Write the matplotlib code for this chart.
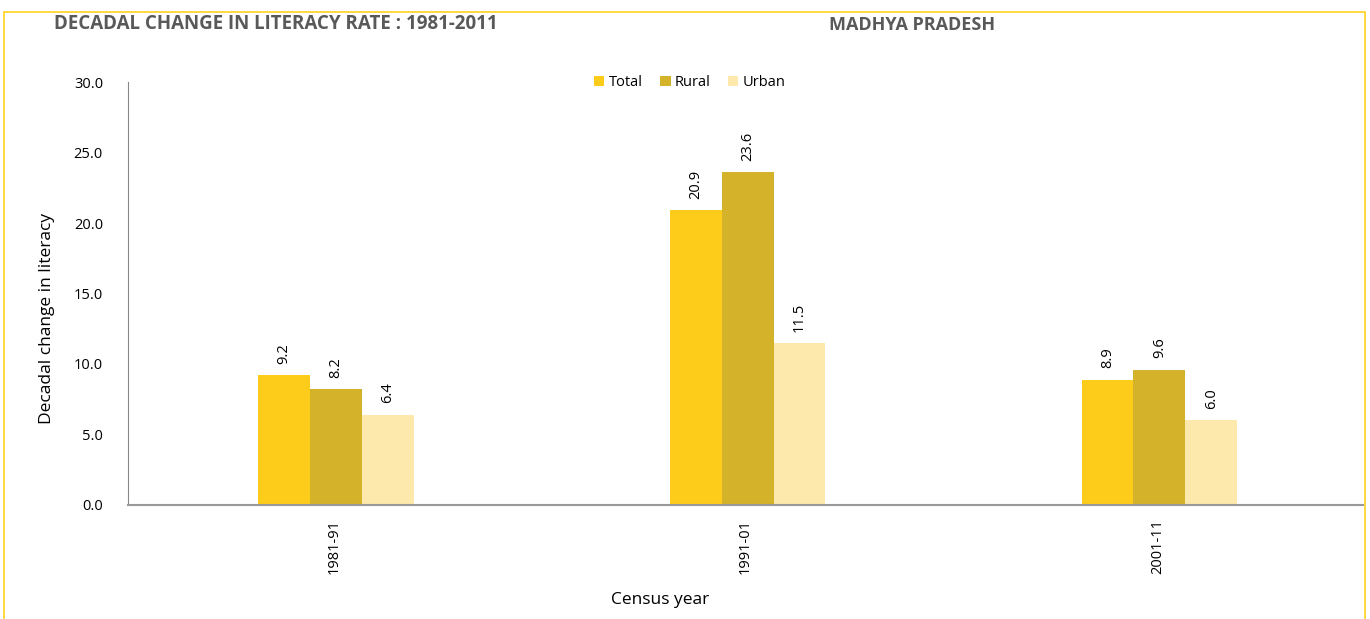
import matplotlib
matplotlib.use("Agg")
import matplotlib.pyplot as plt
from matplotlib.patches import Rectangle
import numpy as np

years = ["1981-91", "1991-01", "2001-11"]
total = [9.2, 20.9, 8.9]
rural = [8.2, 23.6, 9.6]
urban = [6.4, 11.5, 6.0]

COLORS = {"Total": "#FDCC1A", "Rural": "#D4B22A", "Urban": "#FEE9AC"}
plt.rcParams["font.family"] = ["Open Sans", "DejaVu Sans"]

fig = plt.figure(figsize=(13.7, 6.19), dpi=100)
ax = fig.add_axes([0.0934, 0.1842, 0.9016, 0.6833])

# yellow frame around the chart
fig.patches.append(Rectangle((4 / 1370, -0.05), 1361 / 1370, 1.05 - 12 / 619,
                             transform=fig.transFigure, fill=False,
                             edgecolor="#FFD21F", lw=1.2))

x = np.arange(len(years))
w = 0.126
for off, vals, name in [(-w, total, "Total"), (0, rural, "Rural"), (w, urban, "Urban")]:
    bars = ax.bar(x + off + 0.005, vals, w, color=COLORS[name], label=name)
    for b, v in zip(bars, vals):
        ax.text(b.get_x() + b.get_width() / 2, v + 0.8, f"{v:.1f}",
                rotation=90, ha="center", va="bottom", fontsize=10.5)

ax.set_xlim(-0.5, 2.5)
ax.set_ylim(0, 30)
ax.set_yticks(np.arange(0, 30.1, 5))
ax.set_yticklabels([f"{t:.1f}" for t in np.arange(0, 30.1, 5)], fontsize=10.5)
ax.set_xticks(x)
ax.set_xticklabels(years, rotation=90, fontsize=10.5)
ax.tick_params(axis="both", length=0, pad=10)
ax.tick_params(axis="y", pad=18)
for s in ["top", "right"]:
    ax.spines[s].set_visible(False)
ax.spines["left"].set_color("#888888")
ax.spines["bottom"].set_color("#999999")
ax.spines["bottom"].set_linewidth(1.5)

ax.set_ylabel("Decadal change in literacy", fontsize=12.5)
ax.set_xlabel("Census year", fontsize=12.5)
ax.yaxis.set_label_coords(-0.059, 0.44)
ax.xaxis.set_label_coords(0.431, -0.206)

ax.legend(loc="upper center", bbox_to_anchor=(0.455, 1.048), ncol=3, frameon=False,
          fontsize=10.5, handlelength=0.7, handleheight=0.7, columnspacing=1.2,
          handletextpad=0.3)

fig.text(54 / 1370, 1 - 24 / 619, "DECADAL CHANGE IN LITERACY RATE : 1981-2011",
         fontsize=13.5, fontweight="bold", color="#595959", va="center")
fig.text(912 / 1370, 1 - 25 / 619, "MADHYA PRADESH", fontsize=13,
         fontweight="bold", color="#595959", ha="center", va="center")

fig.savefig("out.png", dpi=100)
